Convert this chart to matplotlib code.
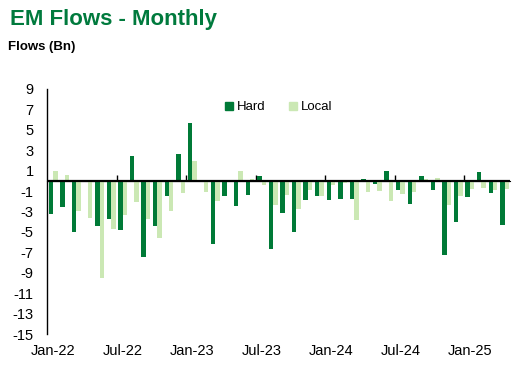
import matplotlib.pyplot as plt
import numpy as np
from matplotlib.patches import Patch

plt.rcParams["font.family"] = ["Liberation Sans", "DejaVu Sans"]

months = [
    "Jan-22", "Feb-22", "Mar-22", "Apr-22", "May-22", "Jun-22",
    "Jul-22", "Aug-22", "Sep-22", "Oct-22", "Nov-22", "Dec-22",
    "Jan-23", "Feb-23", "Mar-23", "Apr-23", "May-23", "Jun-23",
    "Jul-23", "Aug-23", "Sep-23", "Oct-23", "Nov-23", "Dec-23",
    "Jan-24", "Feb-24", "Mar-24", "Apr-24", "May-24", "Jun-24",
    "Jul-24", "Aug-24", "Sep-24", "Oct-24", "Nov-24", "Dec-24",
    "Jan-25", "Feb-25", "Mar-25", "Apr-25",
]
hard = [
    -3.2, -2.6, -5.0, -0.05, -4.4, -3.7,
    -4.8, 2.4, -7.5, -4.4, -1.5, 2.6,
    5.7, 0.13, -6.2, -1.45, -2.5, -1.35,
    0.5, -6.65, -3.1, -5.0, -1.85, -1.45,
    -1.9, -1.75, -1.75, 0.2, -0.35, 1.0,
    -0.85, -2.25, 0.5, -0.85, -7.25, -4.0,
    -1.55, 0.9, -1.15, -4.3,
]
local = [
    1.0, 0.6, -3.0, -3.6, -9.5, -4.7,
    -3.3, -2.1, -3.7, -5.6, -3.0, -1.15,
    1.9, -1.05, -2.0, -0.15, 1.0, 0.2,
    -0.45, -2.35, -1.35, -2.8, -0.9, -1.45,
    -0.45, -0.25, -3.8, -1.05, -0.95, -1.95,
    -1.25, -1.05, 0.2, 0.3, -2.35, -1.45,
    -0.75, -0.65, -0.85, -0.75,
]
yticks = list(range(-15, 10, 2))
label_months = ["Jan-22", "Jul-22", "Jan-23", "Jul-23", "Jan-24", "Jul-24", "Jan-25"]

hard_color = "#007A37"
local_color = "#CBE8B4"

x = np.arange(len(months))
w = 0.38

fig = plt.figure(figsize=(5.24, 3.77), dpi=100)
ax = fig.add_axes([0.0906, 0.114, 0.974 - 0.0906, 0.764 - 0.114])

ax.bar(x - w / 2, hard, width=w, color=hard_color, label="Hard")
ax.bar(x + w / 2, local, width=w, color=local_color, label="Local")
ax.axhline(0, color="black", lw=1.6, zorder=3)

ax.set_xlim(-0.5, len(months) - 0.5)
ax.set_ylim(-15, 9)
ax.set_yticks(yticks)
ax.set_yticklabels([str(v) for v in yticks], fontsize=10.5)
ax.tick_params(axis="y", length=0, pad=10)

pos = [months.index(m) for m in label_months]
ax.set_xticks(pos)
ax.set_xticklabels(label_months, fontsize=10.5)
ax.tick_params(axis="x", length=0, pad=7)

for s in ["top", "right", "bottom"]:
    ax.spines[s].set_visible(False)
ax.spines["left"].set_linewidth(1.0)

# small tick marks on the zero line between half-year groups
sec = ax.secondary_xaxis(15 / 24)
sec.set_xticks([p - 0.5 for p in pos[1:]])
sec.set_xticklabels([])
sec.tick_params(length=4, width=1, direction="out", color="black")
sec.spines["bottom"].set_visible(False)

handles = [Patch(color=hard_color), Patch(color=local_color)]
ax.legend(handles, ["Hard", "Local"], loc="center", bbox_to_anchor=(0.5, 0.925),
          ncol=2, frameon=False, fontsize=9.5, handlelength=0.6, handleheight=0.6,
          handletextpad=0.3, columnspacing=1.8)

fig.text(10 / 524, 1 - 19 / 377, "EM Flows - Monthly", color="#007A3D", fontsize=16,
         fontweight="bold", va="center", ha="left")
fig.text(8 / 524, 1 - 47 / 377, "Flows (Bn)", color="black", fontsize=9.5,
         fontweight="bold", va="center", ha="left")

fig.savefig("out.png", dpi=100)
